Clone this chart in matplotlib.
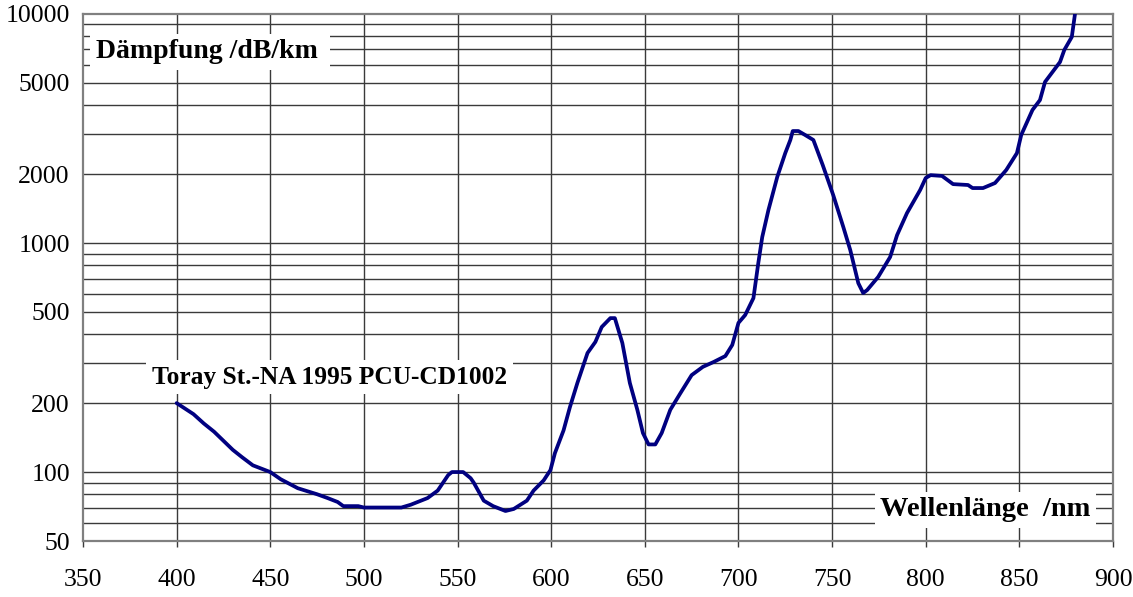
import matplotlib
matplotlib.use("Agg")
import matplotlib.pyplot as plt
from matplotlib.ticker import NullFormatter

wellenlaenge = [400, 409, 414.5, 420, 430, 435, 440.7, 450, 455.6, 464.7, 475, 480.6,
                486, 489, 497, 500, 520, 525, 534, 539.4, 545, 547, 553, 557, 558.6,
                564, 569, 575.6, 580, 587, 590.6, 596, 599.6, 602, 606.6, 610, 614,
                619.4, 623.6, 627, 631.6, 634, 638, 642, 646, 649, 652, 655.6, 659,
                663.6, 669, 675, 681, 686.6, 693, 696.7, 700, 703.6, 708, 710.6, 712.7,
                716, 720.7, 725, 727.7, 729, 732, 735.6, 740, 745, 750.6, 756, 759.7,
                764, 766.6, 768.7, 774.6, 781, 784.7, 790, 797, 800, 802.6, 808.7,
                814.6, 822.6, 825, 830.6, 837, 843, 848.7, 851, 857, 861, 863.7,
                871.7, 874, 878, 879.7]
daempfung = [200, 179, 163, 150, 125, 116, 107, 100, 93, 85, 80, 77,
             74, 71, 71, 70, 70, 72, 77, 83, 97, 100, 100, 94, 90,
             75, 71, 67.6, 69, 75, 83, 92, 102, 121, 152, 192, 245,
             331, 370, 430, 470, 470, 366, 245, 187, 148, 132, 132, 148,
             187, 221, 265, 288, 302, 321, 359, 448, 485, 575, 818, 1062,
             1393, 1941, 2470, 2818, 3083, 3083, 2963, 2818, 2190, 1620, 1174, 932,
             668, 605, 623, 711, 869, 1083, 1352, 1703, 1923, 1979, 1963,
             1808, 1792, 1738, 1738, 1828, 2084, 2470, 2963, 3811, 4210, 5050,
             6170, 6966, 7940, 10000]

x_ticks = list(range(350, 901, 50))
y_labels = [50, 100, 200, 500, 1000, 2000, 5000, 10000]
y_marks = [50, 100, 1000, 10000]

plt.rcParams['font.family'] = 'Liberation Serif'

fig = plt.figure(figsize=(11.33, 5.97), dpi=100)
ax = fig.add_axes([83 / 1133, 56 / 597, 1030 / 1133, 527 / 597])

ax.set_yscale('log')
ax.set_xlim(350, 900)
ax.set_ylim(50, 10000)

grid_col = '#3a3a3a'
# horizontale Gitterlinien bei 1..9 x 10^n
for e in range(1, 5):
    for m in range(1, 10):
        v = m * 10 ** e
        if 50 < v < 10000:
            ax.axhline(v, color=grid_col, lw=1.0, zorder=1)
for xv in x_ticks[1:-1]:
    ax.axvline(xv, color=grid_col, lw=1.0, zorder=1)

ax.plot(wellenlaenge, daempfung, color='#000080', lw=2.7, zorder=4,
        solid_joinstyle='round', solid_capstyle='round')

ax.set_xticks(x_ticks)
ax.set_xticklabels([str(v) for v in x_ticks])
ax.tick_params(axis='x', direction='out', length=4.5, width=1.0, color=grid_col,
               pad=15.5, labelsize=18.5)

ax.set_yticks(y_labels)
ax.set_yticklabels([str(v) for v in y_labels])
ax.set_yticks(y_marks, minor=True)
ax.yaxis.set_minor_formatter(NullFormatter())
ax.tick_params(axis='y', which='major', length=0, pad=9.5, labelsize=18.5)
ax.tick_params(axis='y', which='minor', direction='out', length=6, width=1.0,
               color='#202020')

for s in ax.spines.values():
    s.set_color('#808080')
    s.set_linewidth(1.6)
    s.set_zorder(3)

box = dict(facecolor='white', edgecolor='none', pad=4)
ax.text(0.0126, 0.928, 'Dämpfung /dB/km ', transform=ax.transAxes, ha='left',
        va='center', fontsize=20, fontweight='bold', bbox=box, zorder=5)
ax.text(0.067, 0.311, 'Toray St.-NA 1995 PCU-CD1002', transform=ax.transAxes,
        ha='left', va='center', fontsize=18.3, fontweight='bold', bbox=box, zorder=5)
ax.text(0.774, 0.059, 'Wellenlänge  /nm', transform=ax.transAxes, ha='left',
        va='center', fontsize=20.5, fontweight='bold', bbox=box, zorder=5)

fig.savefig('out.png', dpi=100)
